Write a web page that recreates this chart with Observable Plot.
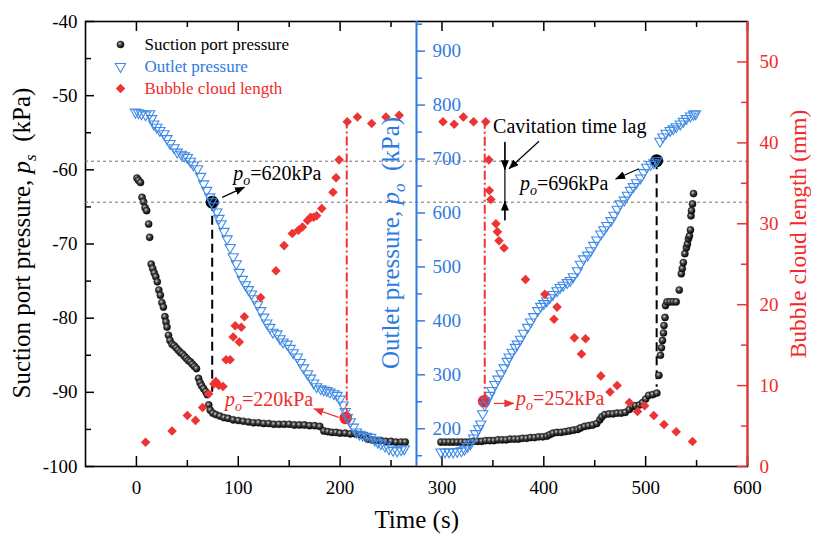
<!DOCTYPE html>
<html><head><meta charset="utf-8">
<script src="https://cdn.jsdelivr.net/npm/d3@7"></script>
<script src="https://cdn.jsdelivr.net/npm/@observablehq/plot@0.6"></script>
<style>
html,body{margin:0;padding:0;background:#fff;}
#chart{position:relative;width:813px;height:535px;overflow:hidden;}
#chart > svg{position:absolute;left:0;top:0;}
#chart text{font-family:"Liberation Serif","Times New Roman",serif;}
</style></head><body>
<svg width="0" height="0" style="position:absolute">
 <defs>
  <radialGradient id="ball" cx="40%" cy="38%" r="62%">
   <stop offset="0%" stop-color="#cfcfcf"/>
   <stop offset="40%" stop-color="#4a4a4a"/>
   <stop offset="100%" stop-color="#000"/>
  </radialGradient>
  <marker id="ahK" viewBox="0 0 10 8" refX="9.5" refY="4" markerWidth="10" markerHeight="8" markerUnits="userSpaceOnUse" orient="auto"><path d="M0,0L10,4L0,8z" fill="#000"/></marker>
  <marker id="ahR" viewBox="0 0 10 8" refX="9.5" refY="4" markerWidth="10" markerHeight="8" markerUnits="userSpaceOnUse" orient="auto"><path d="M0,0L10,4L0,8z" fill="#ec3434"/></marker>
 </defs>
</svg>
<div id="chart"></div>
<script>
// ---------- data ----------
const timeTicks = [0,100,200,300,400,500,600];
const timeMinor = [50,150,250,350,450,550];
const suctionTicks = [-100,-90,-80,-70,-60,-50,-40];
const suctionMinor = [-95,-85,-75,-65,-55,-45];
const outletTicks = [200,300,400,500,600,700,800,900];
const outletMinor = [150,250,350,450,550,650,750,850,950];
const bubbleTicks = [0,10,20,30,40,50];
const bubbleMinor = [5,15,25,35,45];

// Suction port pressure (kPa) [time s, value]
const suctionDown = [[0.5,-61.1],[2,-61.4],[4,-61.7],[5.5,-63.7],[7,-64.3],[8.5,-65.1],[10,-65.5],[12,-67.3],[13,-69.1],[14.5,-72.7],[16,-73.3],[17.5,-73.9],[19,-74.4],[20.5,-75.1],[22,-76.2],[23.5,-76.9],[25,-77.9],[26.5,-78.5],[28,-79.8],[29,-80.5],[30,-81.2],[31.5,-82.3],[33,-83.0],[35,-83.5],[37,-83.7],[39,-84.0],[41,-84.3],[43,-84.6],[45,-84.8],[47,-85.1],[49,-85.4],[51,-85.7],[53,-85.9],[55,-86.2],[57,-86.5],[59,-86.8],[61,-88.1],[62.5,-88.7],[64,-89.1],[66,-89.5],[68,-89.9],[69.5,-90.3],[71,-91.7],[72.5,-92.4],[75,-92.8],[78,-93.0],[82,-93.2],[86,-93.4],[90,-93.5],[95,-93.7],[100,-93.8],[105,-93.9],[110,-94.0],[115,-94.1],[120,-94.1],[125,-94.2],[130,-94.2],[135,-94.3],[140,-94.3],[145,-94.3],[150,-94.3],[155,-94.4],[160,-94.4],[165,-94.4],[170,-94.5],[175,-94.5],[180,-94.6],[184,-95.2],[188,-95.3],[192,-95.4],[196,-95.4],[200,-95.5],[205,-95.5],[210,-95.6],[215,-95.6],[220,-95.7],[224,-95.8],[227,-96.3],[231,-96.4],[235,-96.5],[240,-96.5],[245,-96.6],[250,-96.6],[255,-96.7],[260,-96.7],[264,-96.7]];
const suctionUp = [[299,-96.7],[303,-96.7],[307,-96.7],[311,-96.7],[315,-96.7],[319,-96.7],[323,-96.7],[327,-96.7],[331,-96.6],[335,-96.6],[339,-96.6],[343,-96.5],[347,-96.5],[351,-96.5],[355,-96.4],[359,-96.4],[363,-96.4],[367,-96.3],[371,-96.3],[375,-96.3],[379,-96.2],[383,-96.2],[387,-96.1],[391,-96.1],[395,-96.0],[399,-96.0],[403,-95.9],[406,-95.7],[409,-95.5],[413,-95.4],[417,-95.4],[421,-95.3],[425,-95.2],[429,-95.1],[433,-95.0],[436,-94.8],[440,-94.6],[444,-94.5],[448,-94.4],[452,-94.2],[455,-93.7],[457,-93.3],[460,-93.0],[464,-92.9],[468,-92.9],[472,-92.8],[476,-92.8],[480,-92.7],[484,-92.3],[487,-91.9],[490,-91.8],[494,-91.7],[497,-91.4],[500,-90.9],[503,-90.4],[507,-90.3],[511,-90.1],[513,-87.7],[514.5,-85.0],[515.5,-84.0],[516.5,-83.0],[517.5,-82.0],[518,-81.0],[519,-79.9],[519.5,-78.3],[521,-77.8],[524,-77.8],[527,-77.8],[530,-77.8],[533,-76.2],[535,-74.0],[536,-73.3],[537,-72.5],[538.5,-71.3],[540,-70.5],[541,-70.0],[542,-69.3],[543,-68.9],[544,-68.1],[544.5,-66.2],[545,-65.5],[546,-64.6],[547,-63.2]];

// Outlet pressure (kPa) [time s, value]
const outletDown = [[-1,787],[2,786],[5,784],[9,782],[13,784],[15,775],[17,765],[20,759],[23,753],[27,747],[30,738],[33,729],[37,721],[40,713],[44,709],[47,706],[50,703],[53,696],[56,689],[60,682],[63,668],[66,654],[69,642],[72,630],[74,621],[76,613],[79,602],[81,590],[83,580],[86,566],[89,552],[92,536],[95,519],[98,506],[101,490],[104,477],[107,467],[110,458],[113,450],[116,441],[119,430],[122,419],[125,407],[128,396],[131,388],[134,379],[138,376],[141,367],[144,361],[148,357],[151,349],[154,341],[158,333],[161,323],[164,313],[168,302],[171,294],[174,285],[177,278],[181,274],[184,272],[187,271],[190,268],[194,265],[197,262],[200,255],[203,244],[205,232],[207,221],[210,213],[213,203],[216,194],[219,190],[222,188],[226,186],[230,184],[234,179],[237,175],[240,172],[244,168],[248,163],[252,160],[256,159],[260,161],[263,163]];
const outletUp = [[299,157],[303,157],[307,157],[311,157],[315,158],[319,159],[322,162],[325,167],[328,172],[331,183],[333,191],[336,200],[338,209],[340,228],[342,244],[344,252],[347,262],[349,271],[352,282],[355,292],[358,302],[361,313],[364,325],[366,333],[369,342],[372,351],[374,357],[377,366],[380,377],[384,388],[387,398],[390,408],[394,419],[397,427],[400,432],[403,437],[406,443],[409,449],[413,456],[416,462],[419,466],[423,471],[426,475],[429,482],[433,493],[436,505],[439,515],[443,522],[446,530],[449,540],[452,550],[456,561],[459,569],[462,577],[466,586],[469,596],[472,607],[475,617],[479,624],[482,633],[485,642],[488,649],[491,656],[495,665],[498,675],[501,685],[505,690],[508,693],[511,697],[514,733],[517,741],[520,748],[524,753],[527,756],[530,760],[534,765],[537,770],[540,775],[544,780],[547,783],[549,784]];

// Bubble cloud length (mm) [time s, value]
const bubbleGrow = [[9,3.0],[35,4.4],[50,6.3],[58,5.7],[65,7.3],[71,9.0],[76,10.2],[78,10.5],[81,10.0],[85,9.9],[88,13.2],[92,13.2],[95,16.0],[97,17.4],[101,15.4],[103,17.2],[106,18.5],[122,20.9],[137,24.2],[145,27.3],[153,28.8],[159,29.2],[163,29.6],[168,30.4],[171,30.8],[174,30.8],[177,31.0],[182,31.9],[193,33.9],[196,35.7],[199,37.9],[207,42.6],[217,43.2],[231,42.4],[245,43.2],[258,43.4]];
const bubbleShrink = [[301,42.6],[312,42.3],[321,43.2],[331,42.6],[343,42.6],[346,37.9],[346.5,34.1],[348,33.0],[353,30.0],[354.5,29.0],[356,27.9],[361,27.0],[382,23.1],[401,21.3],[413,19.7],[410,18.2],[430,15.9],[441,15.8],[437,13.9],[456,11.2],[465,9.2],[472,10.0],[484,7.9],[492,6.8],[499,7.5],[508,6.3],[518,5.2],[530,4.3],[546,3.1]];

// Annotations
const refLines = [620, 696];
const onsetPoints = [{t:74.4, p:620, ps:-90.0}, {t:510.8, p:697, ps:-89.3}];
const inceptionPoints = [{t:205.5, tl:206.5, p:220, L:42.6}, {t:341.5, tl:342, p:251, L:42.6}];
const lagBar = [{t:361.8, p1:731, p2:586}];
const pointersK = [{t1:84.2,p1:629,t2:106.1,p2:648},{t1:493.4,p1:682,t2:470.5,p2:663},{t1:395.3,p1:733,t2:365.8,p2:682},{t1:361.8,p1:731,t2:361.8,p2:680},{t1:361.8,p1:586,t2:361.8,p2:622}];
const pointersR = [{t1:198.6,p1:221,t2:174.2,p2:237},{t1:351,p1:247,t2:370.6,p2:247}];
const pLabels = [
  {t:95.5, p:660, value:"=620kPa", color:"black"},
  {t:87.4, p:242, value:"=220kPa", color:"red"},
  {t:377.2, p:642, value:"=696kPa", color:"black"},
  {t:373.3, p:243, value:"=252kPa", color:"red"}
];
const lagLabel = {t:350.7, p:748, text:"Cavitation time lag"};
const legendLabels = ["Suction port pressure", "Outlet pressure", "Bubble cloud length"];

// ---------- layout / style ----------
const RED = "#ec3434", RED_TXT = "#f02a2a", BLUE_AX = "#2f7be0", BLUE_PT = "#3f8ae6", GREY = "#6e6e6e";
const FONT = "Liberation Serif";
const W = 813, H = 535, ML = 85, MR = 66, MT = 21, MB = 69;
const tDomain = [-50, 600], suctionDomain = [-100, -40], outletDomain = [130, 955], bubbleDomain = [0, 55];
const blueAxisAt = 275;
const plotW = W - ML - MR, plotH = H - MT - MB;
const pxPerT = plotW / (tDomain[1] - tDomain[0]);
const MR_B = W - (ML + (blueAxisAt - tDomain[0]) * pxPerT);

const xT = Plot.scale({x: {domain: tDomain, range: [ML, W - MR]}});
const yS = Plot.scale({y: {domain: suctionDomain, range: [H - MB, MT]}});
const yO = Plot.scale({y: {domain: outletDomain, range: [H - MB, MT]}});
const yL = Plot.scale({y: {domain: bubbleDomain, range: [H - MB, MT]}});
const oToS = p => yS.invert(yO.apply(p));
const oToL = p => yL.invert(yO.apply(p));

const triDown = {draw(ctx, size) {
  const s3 = Math.sqrt(3), y = -Math.sqrt(size / (s3 * 3));
  ctx.moveTo(0, -y * 2); ctx.lineTo(-s3 * y, y); ctx.lineTo(s3 * y, y); ctx.closePath();
}};

const TXT = {fontFamily: FONT, fontSize: 19};
const common = {width: W, height: H, marginLeft: ML, marginTop: MT, marginBottom: MB,
  style: {background: "transparent", fontFamily: FONT, fontSize: "19px", color: "black"}};

const suction = suctionDown.concat(suctionUp);
const outlet = outletDown.concat(outletUp);
const bubble = bubbleGrow.concat(bubbleShrink);

// Layer A: suction pressure (left axis), frame, time axis
const plotA = Plot.plot({...common, marginRight: MR,
  x: {domain: tDomain}, y: {domain: suctionDomain},
  marks: [
    Plot.frame({stroke: "black", strokeWidth: 1.6}),
    Plot.tickX(timeTicks, {x: d => d, insetTop: plotH - 10, stroke: "black", strokeWidth: 1.5}),
    Plot.tickX(timeMinor, {x: d => d, insetTop: plotH - 6, stroke: "black", strokeWidth: 1.5}),
    Plot.tickX(timeTicks, {x: d => d, insetBottom: plotH - 10, stroke: "black", strokeWidth: 1.5}),
    Plot.tickX(timeMinor, {x: d => d, insetBottom: plotH - 6, stroke: "black", strokeWidth: 1.5}),
    Plot.tickY(suctionTicks, {y: d => d, insetRight: plotW - 9, stroke: "black", strokeWidth: 1.5}),
    Plot.tickY(suctionMinor, {y: d => d, insetRight: plotW - 6, stroke: "black", strokeWidth: 1.5}),
    Plot.axisX(timeTicks, {...TXT, anchor: "bottom", tickSize: 0, tickPadding: 14, tickFormat: d => String(d), label: null}),
    Plot.axisY(suctionTicks, {...TXT, anchor: "left", tickSize: 0, tickPadding: 8, tickFormat: d => String(d), label: null}),
    Plot.ruleX(onsetPoints, {x: "t", y1: d => oToS(d.p), y2: "ps", stroke: "black", strokeWidth: 2, strokeDasharray: "9,5"}),
    Plot.dot(suction, {x: d => d[0], y: d => d[1], r: 3.6, fill: "url(#ball)", stroke: "#111", strokeWidth: 0.4})
  ]});

// Layer B: outlet pressure (middle axis)
const plotB = Plot.plot({...common, marginRight: MR_B,
  x: {domain: [tDomain[0], blueAxisAt], axis: null}, y: {domain: outletDomain},
  marks: [
    Plot.ruleY(refLines, {y: d => d, x1: tDomain[0], x2: tDomain[1], stroke: GREY, strokeWidth: 1, strokeDasharray: "3,3"}),
    Plot.ruleX([blueAxisAt], {stroke: BLUE_AX, strokeWidth: 2}),
    Plot.axisY(outletTicks, {...TXT, anchor: "right", tickSize: 8, tickPadding: 8, stroke: BLUE_AX, fill: BLUE_AX, strokeWidth: 1.5, tickFormat: d => String(d), label: null}),
    Plot.axisY(outletMinor, {anchor: "right", tickSize: 5, stroke: BLUE_AX, strokeWidth: 1.5, tickFormat: () => "", label: null}),
    Plot.dot(onsetPoints, {x: "t", y: "p", r: 6.5, fill: "black"}),
    Plot.dot(inceptionPoints, {x: "t", y: "p", r: 6.3, fill: "#ff1f1f"}),
    Plot.dot(outlet, {x: d => d[0], y: d => d[1], r: 3.8, symbol: triDown, stroke: BLUE_PT, fill: "none", strokeWidth: 1.1}),
    Plot.ruleX(lagBar, {x: "t", y1: "p1", y2: "p2", stroke: "black", strokeWidth: 1.2}),
    Plot.link(pointersK, {x1: "t1", y1: "p1", x2: "t2", y2: "p2", stroke: "black", strokeWidth: 1.2, ariaDescription: "ptr-k"}),
    Plot.link(pointersR, {x1: "t1", y1: "p1", x2: "t2", y2: "p2", stroke: RED, strokeWidth: 1.2, ariaDescription: "ptr-r"})
  ]});

// Layer C: bubble cloud length (right axis) + legend
const plotC = Plot.plot({...common, marginRight: MR,
  x: {domain: tDomain, axis: null}, y: {domain: bubbleDomain},
  marks: [
    Plot.ruleX([tDomain[1]], {stroke: RED, strokeWidth: 2}),
    Plot.tickY(bubbleTicks, {y: d => d, insetLeft: plotW - 10, stroke: RED, strokeWidth: 1.5}),
    Plot.tickY(bubbleMinor, {y: d => d, insetLeft: plotW - 6, stroke: RED, strokeWidth: 1.5}),
    Plot.axisY(bubbleTicks, {...TXT, anchor: "right", tickSize: 0, tickPadding: 12, fill: RED_TXT, tickFormat: d => String(d), label: null}),
    Plot.ruleX(inceptionPoints, {x: "tl", y1: d => oToL(d.p), y2: "L", stroke: RED, strokeWidth: 2, strokeDasharray: "9,3,2,3"}),
    Plot.dot(bubble, {x: d => d[0], y: d => d[1], r: 4.3, symbol: "diamond2", fill: RED}),
    Plot.dot([0], {frameAnchor: "top-left", dx: 35, dy: 23, r: 3.6, fill: "url(#ball)", stroke: "#111", strokeWidth: 0.4}),
    Plot.dot([0], {frameAnchor: "top-left", dx: 35, dy: 45, r: 3.8, symbol: triDown, stroke: BLUE_PT, fill: "white", strokeWidth: 1.1}),
    Plot.dot([0], {frameAnchor: "top-left", dx: 35, dy: 67, r: 4.3, symbol: "diamond2", fill: RED}),
    Plot.text([legendLabels[0]], {frameAnchor: "top-left", dx: 59, dy: 23.5, text: d => d, textAnchor: "start", lineAnchor: "middle", fontFamily: FONT, fontSize: 17, fill: "black"}),
    Plot.text([legendLabels[1]], {frameAnchor: "top-left", dx: 59, dy: 45.5, text: d => d, textAnchor: "start", lineAnchor: "middle", fontFamily: FONT, fontSize: 17, fill: BLUE_AX}),
    Plot.text([legendLabels[2]], {frameAnchor: "top-left", dx: 59, dy: 67, text: d => d, textAnchor: "start", lineAnchor: "middle", fontFamily: FONT, fontSize: 17, fill: RED_TXT})
  ]});

d3.select(plotB).selectAll('g[aria-description="ptr-k"] path').attr("marker-end", "url(#ahK)");
d3.select(plotB).selectAll('g[aria-description="ptr-r"] path').attr("marker-end", "url(#ahR)");

const chart = document.getElementById("chart");
chart.append(plotA, plotB, plotC);

// Overlay: rich-text titles and annotations
const ov = d3.select(chart).append("svg").attr("width", W).attr("height", H)
  .attr("font-family", FONT).style("position", "absolute").style("left", 0).style("top", 0);

function rich(sel, parts, shift) {
  let down = false;
  parts.forEach(p => {
    const ts = sel.append("tspan").text(p.text);
    if (p.italic) ts.attr("font-style", "italic");
    if (p.sub) { ts.attr("font-size", p.size).attr("dy", shift); down = true; }
    else if (down) { ts.attr("dy", -shift); down = false; }
  });
  return sel;
}
function title(x, y, rot, size, color, parts) {
  const t = ov.append("text").attr("transform", `translate(${x},${y})` + (rot ? ` rotate(${rot})` : ""))
    .attr("text-anchor", "middle").attr("font-size", size).attr("fill", color).style("white-space", "pre");
  rich(t, parts, 6);
}
title(29.5, 243, -90, 25, "black", [{text: "Suction port pressure, "}, {text: "p", italic: true}, {text: "s", italic: true, sub: true, size: 17}, {text: "  (kPa)"}]);
title(398.5, 243, -90, 25, BLUE_AX, [{text: "Outlet pressure, "}, {text: "p", italic: true}, {text: "o", italic: true, sub: true, size: 17}, {text: "  (kPa)"}]);
title(806, 234, -90, 23.5, RED_TXT, [{text: "Bubble cloud length (mm)"}]);
title(416.7, 528, 0, 25, "black", [{text: "Time (s)"}]);

pLabels.forEach(d => {
  const t = ov.append("text").attr("x", xT.apply(d.t)).attr("y", yO.apply(d.p)).attr("font-size", 20)
    .attr("fill", d.color === "red" ? RED_TXT : "black").style("white-space", "pre");
  rich(t, [{text: "p", italic: true}, {text: "o", italic: true, sub: true, size: 14}, {text: d.value}], 5);
});
ov.append("text").attr("x", xT.apply(lagLabel.t)).attr("y", yO.apply(lagLabel.p)).attr("font-size", 20)
  .attr("fill", "black").text(lagLabel.text);
</script>
</body></html>
